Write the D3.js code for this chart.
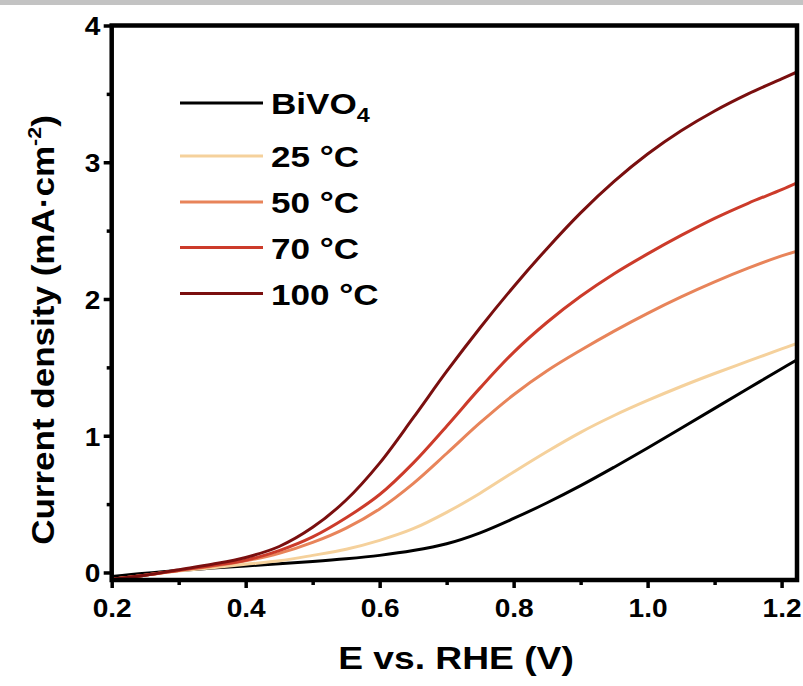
<!DOCTYPE html>
<html>
<head>
<meta charset="utf-8">
<script src="https://cdn.jsdelivr.net/npm/d3@7"></script>
<style>
  body { margin: 0; background: #fff; }
  text { font-family: "Liberation Sans", Arial, sans-serif; font-weight: bold; fill: #000; }
</style>
</head>
<body>
<svg width="803" height="686"></svg>
<script>
// potential (V vs RHE)
var potential = [0.2, 0.25, 0.3, 0.35, 0.4, 0.45, 0.5, 0.55, 0.6, 0.65, 0.7, 0.75, 0.8, 0.85, 0.9, 0.95, 1.0, 1.05, 1.1, 1.15, 1.2, 1.223];

// current density (mA cm-2)
var bivo4 = [-0.03, -0.005, 0.015, 0.032, 0.048, 0.063, 0.08, 0.10, 0.125, 0.16, 0.21, 0.29, 0.395, 0.51, 0.635, 0.77, 0.91, 1.055, 1.20, 1.345, 1.49, 1.555];
var t25 = [-0.05, -0.02, 0.01, 0.035, 0.06, 0.085, 0.125, 0.17, 0.235, 0.32, 0.44, 0.58, 0.735, 0.885, 1.025, 1.148, 1.258, 1.36, 1.455, 1.545, 1.635, 1.675];
var t50 = [-0.05, -0.02, 0.015, 0.045, 0.085, 0.14, 0.22, 0.325, 0.465, 0.65, 0.87, 1.095, 1.30, 1.475, 1.625, 1.765, 1.895, 2.015, 2.125, 2.225, 2.315, 2.35];
var t70 = [-0.05, -0.02, 0.015, 0.05, 0.09, 0.16, 0.26, 0.40, 0.57, 0.80, 1.07, 1.35, 1.61, 1.83, 2.02, 2.185, 2.33, 2.465, 2.59, 2.70, 2.80, 2.85];
var t100 = [-0.05, -0.02, 0.02, 0.06, 0.11, 0.19, 0.33, 0.53, 0.80, 1.13, 1.47, 1.79, 2.09, 2.37, 2.63, 2.86, 3.06, 3.23, 3.375, 3.50, 3.61, 3.66];

var seriesNames = ["BiVO", "25 °C", "50 °C", "70 °C", "100 °C"];
var seriesValues = [bivo4, t25, t50, t70, t100];
var seriesColors = ["#000000", "#f5d19c", "#e8845a", "#cc3b2a", "#7a0f0f"];

var xTicks = [0.2, 0.4, 0.6, 0.8, 1.0, 1.2];
var xMinor = [0.3, 0.5, 0.7, 0.9, 1.1];
var yTicks = [0, 1, 2, 3, 4];
var yMinor = [0.5, 1.5, 2.5, 3.5];

var svg = d3.select("svg");

// gray strip at the top of the image
svg.append("rect").attr("x", 0).attr("y", 0).attr("width", 803).attr("height", 5).attr("fill", "#c3c3c3");

var x = d3.scaleLinear().domain([0.2, 1.223]).range([111.7, 797]);
var y = d3.scaleLinear().domain([-0.055, 4]).range([580, 25.5]);

svg.append("clipPath").attr("id", "clip")
   .append("rect")
   .attr("x", x(0.2)).attr("y", y(4))
   .attr("width", x(1.223) - x(0.2)).attr("height", y(-0.055) - y(4));

//////// curves ////////
var line = d3.line()
  .x(function(d){ return x(d[0]); })
  .y(function(d){ return y(d[1]); })
  .curve(d3.curveCatmullRom.alpha(0.5));

svg.append("g").attr("clip-path", "url(#clip)")
  .selectAll("path")
  .data(seriesValues)
  .enter()
  .append("path")
  .attr("d", function(vals){
    return line(potential.map(function(p, i){ return [p, vals[i]]; }));
  })
  .attr("fill", "none")
  .attr("stroke", function(d, i){ return seriesColors[i]; })
  .attr("stroke-width", 3);

//////// axes ////////
var xAxis = svg.append("g")
  .attr("transform", "translate(0," + y(-0.055) + ")")
  .call(d3.axisBottom(x).tickValues(xTicks).tickFormat(d3.format(".1f")).tickSize(8).tickSizeOuter(0));
xAxis.selectAll("text")
  .attr("y", 19).attr("dy", "0.71em")
  .attr("font-size", 26)
  .attr("transform", "scale(1.08,1)");

svg.append("g")
  .attr("transform", "translate(0," + y(-0.055) + ")")
  .call(d3.axisBottom(x).tickValues(xMinor).tickFormat("").tickSize(5).tickSizeOuter(0));

var yAxis = svg.append("g")
  .attr("transform", "translate(" + x(0.2) + ",0)")
  .call(d3.axisLeft(y).tickValues(yTicks).tickFormat(d3.format("d")).tickSize(8).tickSizeOuter(0));
yAxis.selectAll("text")
  .attr("x", -10.5)
  .attr("dy", "0.36em")
  .attr("font-size", 26)
  .attr("transform", "scale(1.08,1)");

svg.append("g")
  .attr("transform", "translate(" + x(0.2) + ",0)")
  .call(d3.axisLeft(y).tickValues(yMinor).tickFormat("").tickSize(5).tickSizeOuter(0));

svg.selectAll(".domain").remove();
svg.selectAll(".tick line").attr("stroke", "#000").attr("stroke-width", 3.5);

// frame
svg.append("rect")
  .attr("x", x(0.2)).attr("y", y(4))
  .attr("width", x(1.223) - x(0.2)).attr("height", y(-0.055) - y(4))
  .attr("fill", "none").attr("stroke", "#000").attr("stroke-width", 4.5);

//////// axis titles ////////
svg.append("text")
  .attr("transform", "translate(456,669) scale(1.2,1)")
  .attr("text-anchor", "middle")
  .attr("font-size", 31)
  .text("E vs. RHE (V)");

var yTitle = svg.append("text")
  .attr("transform", "translate(54,330) rotate(-90) scale(1.13,1)")
  .attr("text-anchor", "middle")
  .attr("font-size", 31);
yTitle.append("tspan").text("Current density (mA·cm");
yTitle.append("tspan").attr("font-size", 19).attr("dy", -13).text("-2");
yTitle.append("tspan").attr("dy", 13).text(")");

//////// legend ////////
var legendY = [103, 156, 202, 247.5, 293.5];
var legend = svg.append("g").attr("id", "legend");
var item = legend.selectAll("g")
  .data(seriesNames)
  .enter()
  .append("g")
  .attr("transform", function(d, i){ return "translate(0," + legendY[i] + ")"; });

item.append("line")
  .attr("x1", 180).attr("x2", 263)
  .attr("y1", 0).attr("y2", 0)
  .attr("stroke", function(d, i){ return seriesColors[i]; })
  .attr("stroke-width", 3);

var lt = item.append("text")
  .attr("transform", "translate(271,11) scale(1.17,1)")
  .attr("font-size", 30);
lt.append("tspan").text(function(d){ return d; });
lt.filter(function(d, i){ return i == 0; })
  .append("tspan").attr("font-size", 20).attr("dy", 8).text("4");
</script>
</body>
</html>
